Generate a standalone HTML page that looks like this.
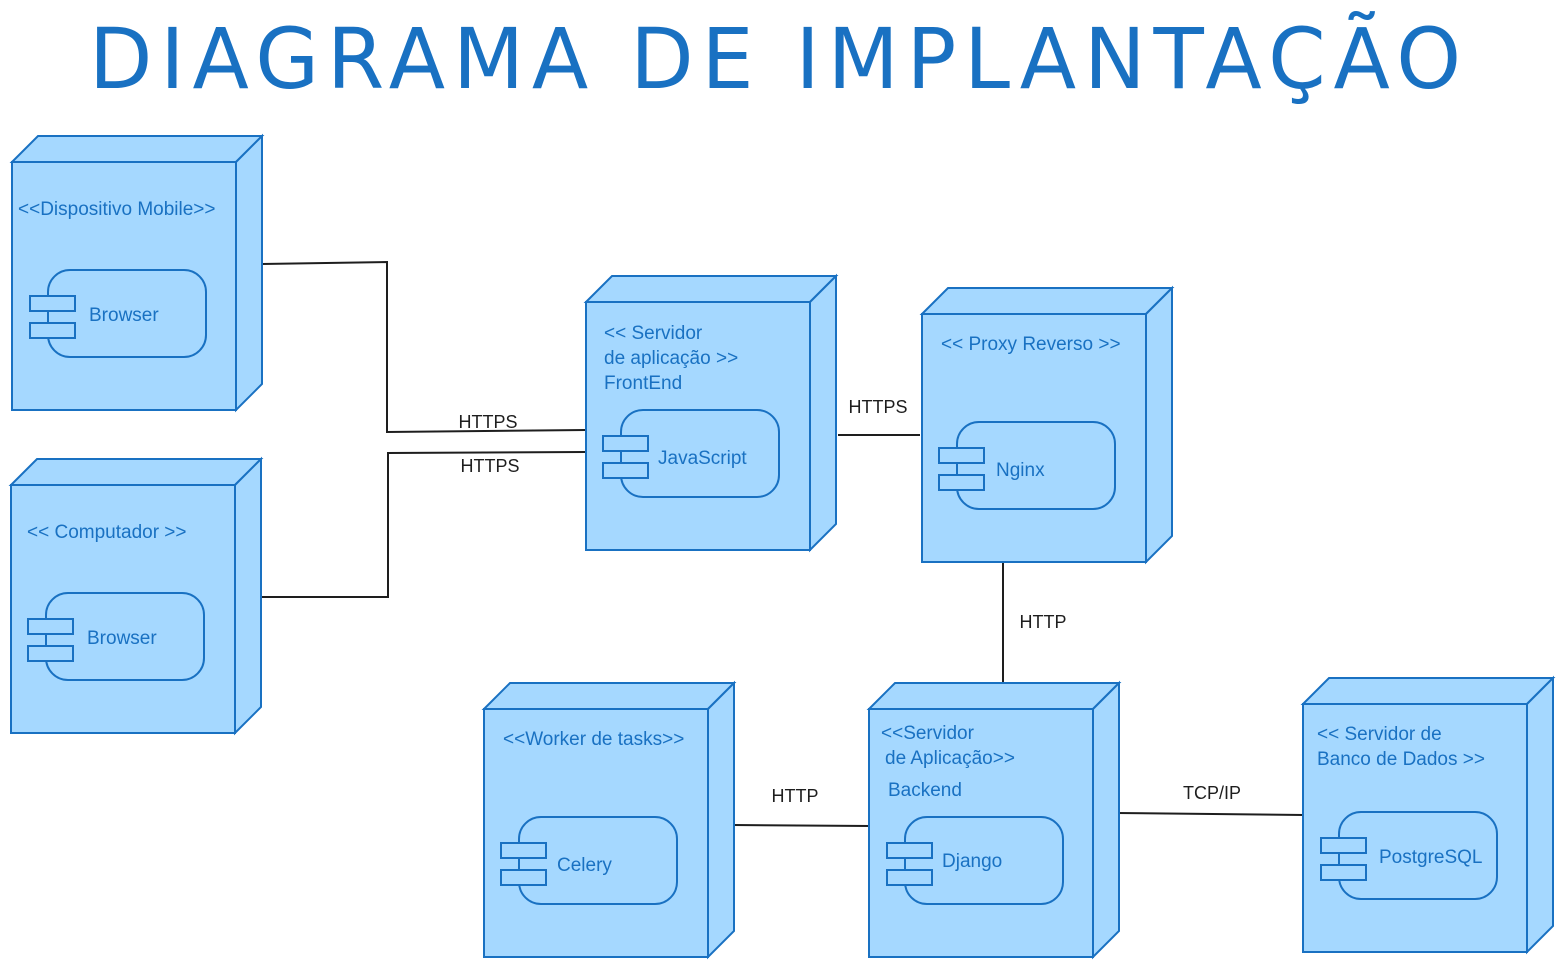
<!DOCTYPE html>
<html><head><meta charset="utf-8"><style>
html,body{margin:0;padding:0;background:#fff;}
svg{display:block;}
text{font-family:"Liberation Sans","DejaVu Sans",sans-serif;}
.b text{fill:#1971c2;font-size:19px;}
.l{fill:#1e1e1e;font-size:18px;}
</style></head><body>
<svg width="1563" height="968" viewBox="0 0 1563 968" xmlns="http://www.w3.org/2000/svg">
<defs>
<g id="comp">
<rect x="18" y="0" width="158" height="87" rx="22" fill="#a5d8ff" stroke="#1971c2" stroke-width="2"/>
<rect x="0" y="26" width="45" height="15" fill="#a5d8ff" stroke="#1971c2" stroke-width="2"/>
<rect x="0" y="53" width="45" height="15" fill="#a5d8ff" stroke="#1971c2" stroke-width="2"/>
</g>
<g id="node">
<polygon points="0,26 26,0 250,0 224,26" fill="#a5d8ff" stroke="#1971c2" stroke-width="2"/>
<polygon points="224,26 250,0 250,248 224,274" fill="#a5d8ff" stroke="#1971c2" stroke-width="2"/>
<rect x="0" y="26" width="224" height="248" fill="#a5d8ff" stroke="#1971c2" stroke-width="2"/>
</g>
</defs>
<text x="779" y="88" text-anchor="middle" font-size="84" fill="#1971c2" textLength="1380" lengthAdjust="spacingAndGlyphs" style="font-family:'DejaVu Sans',sans-serif;letter-spacing:8px">DIAGRAMA DE IMPLANTAÇÃO</text>

<g fill="none" stroke="#1e1e1e" stroke-width="2">
<polyline points="262,264 387,262 387,432 586,430"/>
<polyline points="262,597 388,597 388,453 586,452"/>
<line x1="838" y1="435" x2="920" y2="435"/>
<line x1="1003" y1="563" x2="1003" y2="683"/>
<line x1="733" y1="825" x2="870" y2="826"/>
<line x1="1116" y1="813" x2="1304" y2="815"/>
</g>
<text class="l" x="488" y="428" text-anchor="middle">HTTPS</text>
<text class="l" x="490" y="472" text-anchor="middle">HTTPS</text>
<text class="l" x="878" y="413" text-anchor="middle">HTTPS</text>
<text class="l" x="1043" y="628" text-anchor="middle">HTTP</text>
<text class="l" x="795" y="802" text-anchor="middle">HTTP</text>
<text class="l" x="1212" y="799" text-anchor="middle">TCP/IP</text>

<g class="b">
<use href="#node" x="12" y="136"/>
<text x="18" y="215">&lt;&lt;Dispositivo Mobile&gt;&gt;</text>
<use href="#comp" x="30" y="270"/>
<text x="89" y="321">Browser</text>

<use href="#node" x="11" y="459"/>
<text x="27" y="538">&lt;&lt; Computador &gt;&gt;</text>
<use href="#comp" x="28" y="593"/>
<text x="87" y="644">Browser</text>

<use href="#node" x="586" y="276"/>
<text x="604" y="339">&lt;&lt; Servidor</text>
<text x="604" y="364">de aplicação &gt;&gt;</text>
<text x="604" y="389">FrontEnd</text>
<use href="#comp" x="603" y="410"/>
<text x="658" y="464">JavaScript</text>

<use href="#node" x="922" y="288"/>
<text x="941" y="350">&lt;&lt; Proxy Reverso &gt;&gt;</text>
<use href="#comp" x="939" y="422"/>
<text x="996" y="476">Nginx</text>

<use href="#node" x="484" y="683"/>
<text x="503" y="745">&lt;&lt;Worker de tasks&gt;&gt;</text>
<use href="#comp" x="501" y="817"/>
<text x="557" y="871">Celery</text>

<use href="#node" x="869" y="683"/>
<text x="881" y="739">&lt;&lt;Servidor</text>
<text x="885" y="764">de Aplicação&gt;&gt;</text>
<text x="888" y="796">Backend</text>
<use href="#comp" x="887" y="817"/>
<text x="942" y="867">Django</text>

<use href="#node" x="1303" y="678"/>
<text x="1317" y="740">&lt;&lt; Servidor de</text>
<text x="1317" y="765">Banco de Dados &gt;&gt;</text>
<use href="#comp" x="1321" y="812"/>
<text x="1379" y="863">PostgreSQL</text>
</g>
</svg>
</body></html>
